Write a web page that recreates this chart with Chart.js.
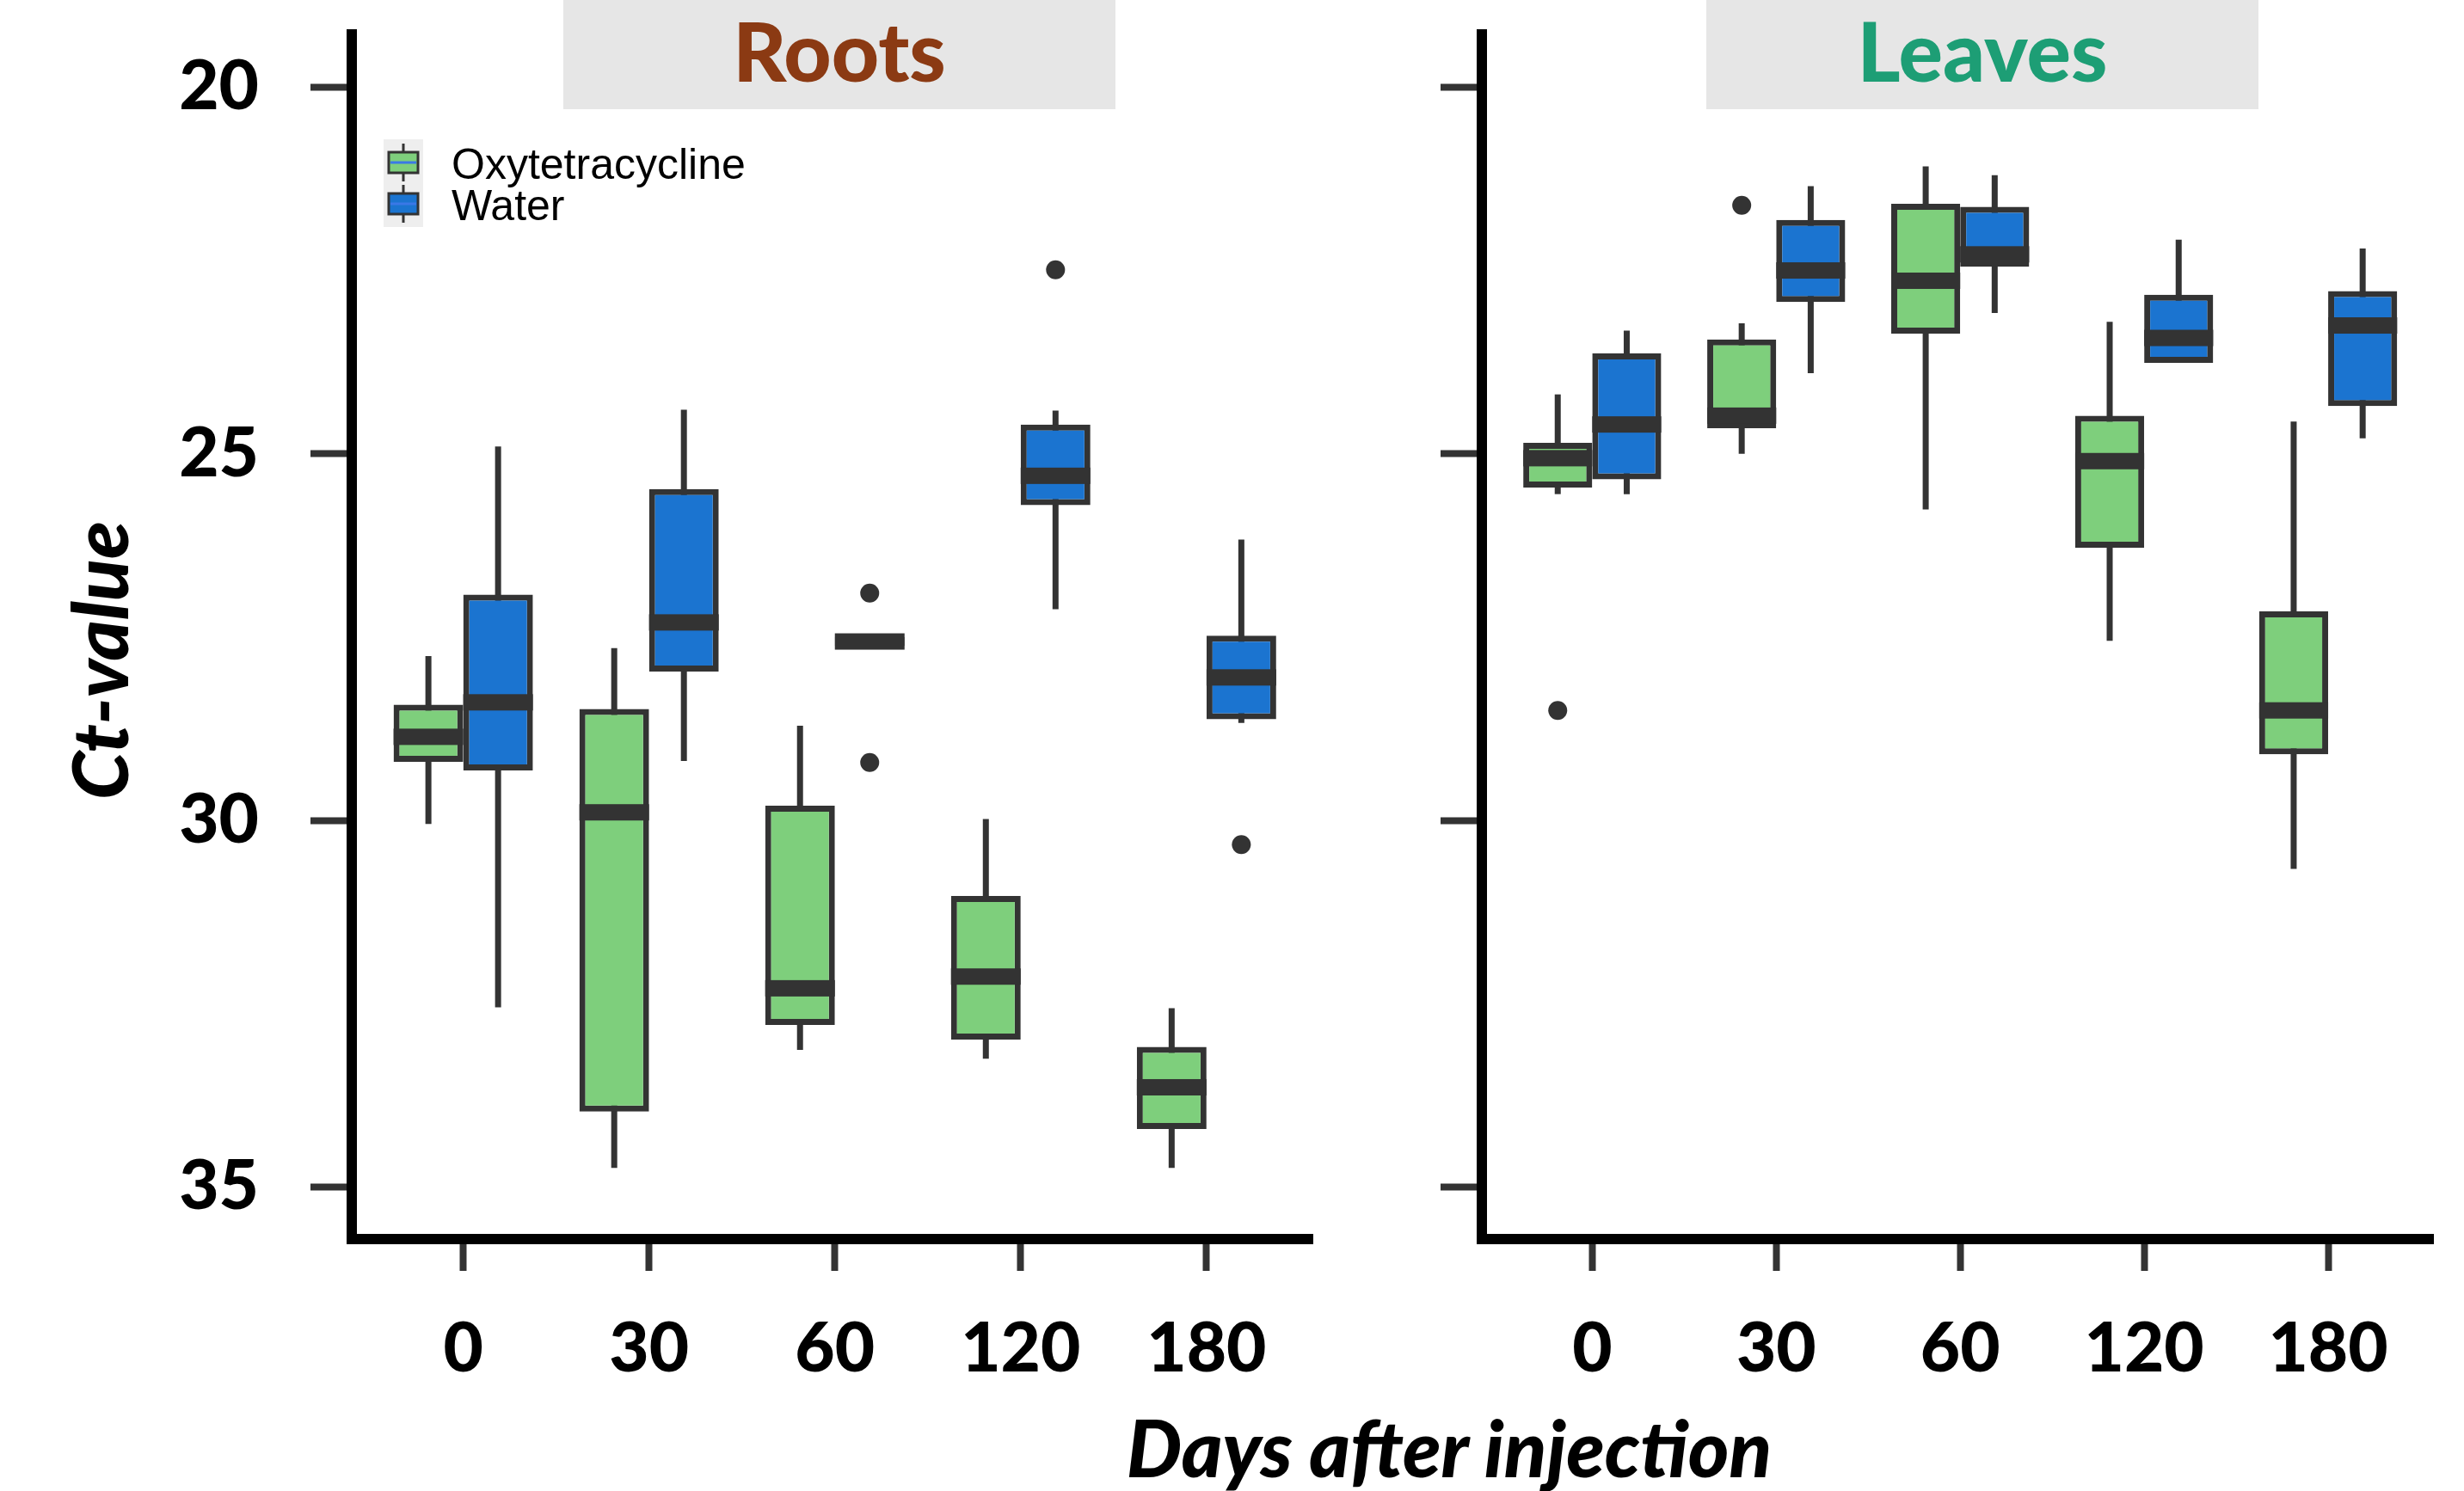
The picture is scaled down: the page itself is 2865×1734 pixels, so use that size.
<!DOCTYPE html>
<html>
<head>
<meta charset="utf-8">
<script src="https://cdn.jsdelivr.net/npm/chart.js@4.4.1/dist/chart.umd.min.js"></script>
<style>
  html, body { margin: 0; padding: 0; background: #fff; }
  #page { position: relative; width: 2865px; height: 1734px; overflow: hidden; background: #fff; }
  .strip { position: absolute; top: 0; height: 127px; line-height: 145px; background: #e6e6e6;
           text-align: center; font: 900 96px Lato, sans-serif; overflow: visible; }
  canvas { position: absolute; top: 0; }
  #ytitle { position: absolute; left: 114px; top: 768px; transform: translate(-50%, -50%) rotate(-90deg);
            font: italic 900 90px Lato, sans-serif; line-height: 1; white-space: nowrap; }
  #xtitle { position: absolute; left: 1685px; top: 1637px; transform: translateX(-50%);
            font: italic 900 91px Lato, sans-serif; line-height: 91px; white-space: nowrap; }
</style>
</head>
<body>
<div id="page">
  <div class="strip" style="left:655px; width:642px; color:#8b3a13;">Roots</div>
  <div class="strip" style="left:1984px; width:642px; color:#1d9e75;">Leaves</div>
  <div id="ytitle">Ct-value</div>
  <div id="xtitle">Days after injection</div>
  <canvas id="roots" width="1560" height="1734" style="left:0px;"></canvas>
  <canvas id="leaves" width="1305" height="1734" style="left:1560px;"></canvas>
</div>
<script>
const dayLabels = ['0', '30', '60', '120', '180'];
const seriesNames = ['Oxytetracycline', 'Water'];
const yTicks = [20, 25, 30, 35];

// [lower whisker, Q1, median, Q3, upper whisker] per day (Ct-value)
const rootsOxy = [
  [27.76, 28.42, 28.86, 29.20, 30.05],
  [27.65, 28.48, 29.89, 33.97, 34.74],
  [28.71, 29.80, 32.29, 32.79, 33.13],
  [29.98, 31.03, 32.13, 32.99, 33.25],
  [32.56, 33.09, 33.64, 34.21, 34.74]
];
const rootsWater = [
  [24.90, 26.92, 28.39, 29.32, 32.55],
  [24.40, 25.48, 27.30, 27.97, 29.19],
  [27.50, 27.50, 27.56, 27.62, 27.62],
  [24.41, 24.60, 25.30, 25.70, 27.12],
  [26.17, 27.48, 28.05, 28.62, 28.67]
];
const leavesOxy = [
  [24.19, 24.85, 25.06, 25.46, 25.55],
  [23.22, 23.44, 24.48, 24.65, 25.00],
  [21.08, 21.59, 22.64, 23.36, 25.76],
  [23.20, 24.48, 25.10, 26.28, 27.55],
  [24.56, 27.15, 28.50, 29.10, 30.66]
];
const leavesWater = [
  [23.32, 23.63, 24.60, 25.35, 25.55],
  [21.35, 21.81, 22.50, 22.93, 23.90],
  [21.20, 21.63, 22.28, 22.45, 23.08],
  [22.08, 22.83, 23.42, 23.76, 23.76],
  [22.20, 22.78, 23.25, 24.35, 24.79]
];

// outliers per day
const rootsOxyOut = [[], [], [], [], []];
const rootsWaterOut = [[], [], [26.90, 29.21], [22.49], [30.33]];
const leavesOxyOut = [[28.50], [21.61], [], [], []];
const leavesWaterOut = [[], [], [], [], []];

const oxyFill = '#7ecf7c';
const waterFill = '#1b74d0';
const edge = '#333333';
const tickFont = { family: 'Lato', weight: '900', size: 80 };

function boxDataset(label, stats, outliers, fill) {
  return {
    label: label,
    stats: stats,
    outliers: outliers,
    data: stats.map((s, i) => ({ x: i, y: [s[1], s[3]] })),
    backgroundColor: fill,
    borderColor: edge,
    borderWidth: 7,
    borderSkipped: false,
    categoryPercentage: 0.75,
    barPercentage: 1.0
  };
}

// whiskers behind the boxes, medians and outliers on top
const boxParts = {
  id: 'boxParts',
  beforeDatasetsDraw(chart) {
    const ctx = chart.ctx;
    const y = chart.scales.y;
    ctx.save();
    ctx.strokeStyle = edge;
    ctx.lineWidth = 7;
    chart.data.datasets.forEach((ds, di) => {
      chart.getDatasetMeta(di).data.forEach((bar, i) => {
        const s = ds.stats[i];
        ctx.beginPath();
        ctx.moveTo(bar.x, y.getPixelForValue(s[0]));
        ctx.lineTo(bar.x, y.getPixelForValue(s[4]));
        ctx.stroke();
      });
    });
    ctx.restore();
  },
  afterDatasetsDraw(chart) {
    const ctx = chart.ctx;
    const y = chart.scales.y;
    ctx.save();
    ctx.fillStyle = edge;
    chart.data.datasets.forEach((ds, di) => {
      chart.getDatasetMeta(di).data.forEach((bar, i) => {
        const m = y.getPixelForValue(ds.stats[i][2]);
        ctx.fillRect(bar.x - bar.width / 2, m - 9.5, bar.width, 19);
        ds.outliers[i].forEach(v => {
          ctx.beginPath();
          ctx.arc(bar.x, y.getPixelForValue(v), 11, 0, Math.PI * 2);
          ctx.fill();
        });
      });
    });
    ctx.restore();
  }
};

// small boxplot keys like the ggplot legend
const keyLegend = {
  id: 'keyLegend',
  afterDraw(chart) {
    const ctx = chart.ctx;
    const x0 = chart.chartArea.left + 37;
    const y0 = chart.chartArea.top + 122;
    ctx.save();
    ctx.fillStyle = '#eeeeee';
    ctx.fillRect(x0, y0, 46, 102);
    chart.data.datasets.forEach((ds, di) => {
      const cx = x0 + 23;
      const cy = y0 + 27 + di * 48;
      ctx.strokeStyle = edge;
      ctx.lineWidth = 3;
      ctx.beginPath();
      ctx.moveTo(cx, cy - 22);
      ctx.lineTo(cx, cy + 22);
      ctx.stroke();
      ctx.fillStyle = ds.backgroundColor;
      ctx.fillRect(cx - 17, cy - 12, 34, 24);
      ctx.strokeRect(cx - 17, cy - 12, 34, 24);
      ctx.strokeStyle = '#3a78e6';
      ctx.beginPath();
      ctx.moveTo(cx - 15, cy);
      ctx.lineTo(cx + 15, cy);
      ctx.stroke();
      ctx.fillStyle = '#000';
      ctx.font = '50px "Liberation Sans", Arial, sans-serif';
      ctx.textBaseline = 'middle';
      ctx.fillText(ds.label, x0 + 79, cy + 5);
    });
    ctx.restore();
  }
};

function makeChart(id, oxy, water, oxyOut, waterOut, showYLabels, yWidth, pad, extra) {
  return new Chart(document.getElementById(id), {
    type: 'bar',
    data: {
      datasets: [
        boxDataset(seriesNames[0], oxy, oxyOut, oxyFill),
        boxDataset(seriesNames[1], water, waterOut, waterFill)
      ]
    },
    options: {
      responsive: false,
      animation: false,
      layout: { padding: pad },
      plugins: { legend: { display: false }, tooltip: { enabled: false } },
      scales: {
        x: {
          type: 'linear',
          min: -0.6,
          max: 4.57,
          offset: false,
          afterBuildTicks: s => { s.ticks = dayLabels.map((d, i) => ({ value: i })); },
          afterFit: s => { s.height = 293; s.paddingLeft = 0; s.paddingRight = 0; },
          ticks: {
            callback: v => dayLabels[v],
            color: '#000',
            font: tickFont,
            padding: 43,
            maxRotation: 0,
            autoSkip: false
          },
          grid: { drawOnChartArea: false, offset: false, tickLength: 37, tickWidth: 8, tickColor: edge },
          border: { display: true, width: 12, color: '#000' }
        },
        y: {
          type: 'linear',
          reverse: true,
          min: 19.28,
          max: 35.71,
          afterBuildTicks: s => { s.ticks = yTicks.map(v => ({ value: v })); },
          afterFit: s => { s.width = yWidth; s.paddingTop = 0; s.paddingBottom = 0; },
          ticks: { display: showYLabels, color: '#000', font: tickFont, padding: 60 },
          grid: { drawOnChartArea: false, tickLength: 48, tickWidth: 8, tickColor: edge },
          border: { display: true, width: 12, color: '#000' }
        }
      }
    },
    plugins: [boxParts].concat(extra)
  });
}

makeChart('roots', rootsOxy, rootsWater, rootsOxyOut, rootsWaterOut, true, 409,
  { top: 40, left: 0, right: 34, bottom: 0 }, [keyLegend]);
makeChart('leaves', leavesOxy, leavesWater, leavesOxyOut, leavesWaterOut, false, 163,
  { top: 40, left: 0, right: 36, bottom: 0 }, []);
</script>
</body>
</html>
